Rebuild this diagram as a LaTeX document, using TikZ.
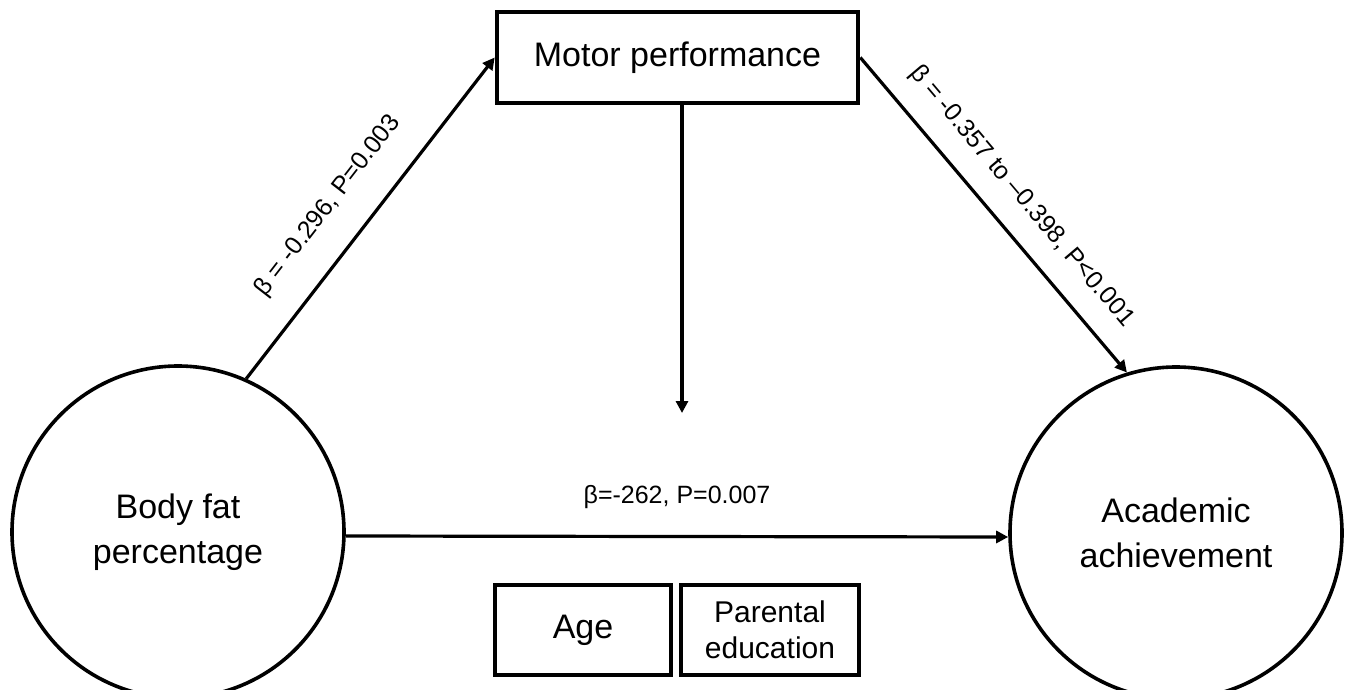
\documentclass[tikz,border=0pt]{standalone}
\usepackage{fontspec}
\setmainfont{Liberation Sans}
\usetikzlibrary{arrows.meta}
\begin{document}
\begin{tikzpicture}[x=0.5pt,y=-0.5pt,
  bigtext/.style={font=\fontsize{17pt}{22.5pt}\selectfont, align=center},
  lbltext/.style={font=\fontsize{12.5pt}{15pt}\selectfont, inner sep=0pt},
  boxnode/.style={draw, line width=2.3pt, bigtext, inner sep=0pt},
  circnode/.style={draw, circle, line width=1.8pt, minimum size=166pt, inner sep=0pt, bigtext},
  arr/.style={line width=1.6pt, -{Triangle[length=6pt,width=6pt]}}]
\useasboundingbox (0,0) rectangle (1345,690);
\node[boxnode, minimum width=180.5pt, minimum height=45.5pt] (mp) at (677.5,57.5) {Motor performance};
\node[circnode] (bf) at (178,532) {Body fat\\percentage};
\node[circnode] (ac) at (1176,533) {Academic\\achievement};
\node[boxnode, minimum width=88pt, minimum height=45pt] (age) at (583,630) {Age};
\node[boxnode, minimum width=89pt, minimum height=45pt, font=\fontsize{15pt}{18pt}\selectfont] (pe) at (770,630) {Parental\\education};
\coordinate (vt) at (682,413);
\draw[arr] (bf.66) -- node[lbltext, pos=0.46, sloped, above=14pt] {β = -0.296, P=0.003} (mp.west);
\draw[arr] (mp.east) -- node[lbltext, pos=0.51, sloped, above=10pt] {β = -0.357 to –0.398, P<0.001} (ac.107);
\draw[arr] ([yshift=-2pt]bf.east) -- node[lbltext, midway, above=13pt] {β=-262, P=0.007} ([yshift=-2pt]ac.west);
\draw[arr] (mp.south -| vt) -- (vt);
\end{tikzpicture}
\end{document}
